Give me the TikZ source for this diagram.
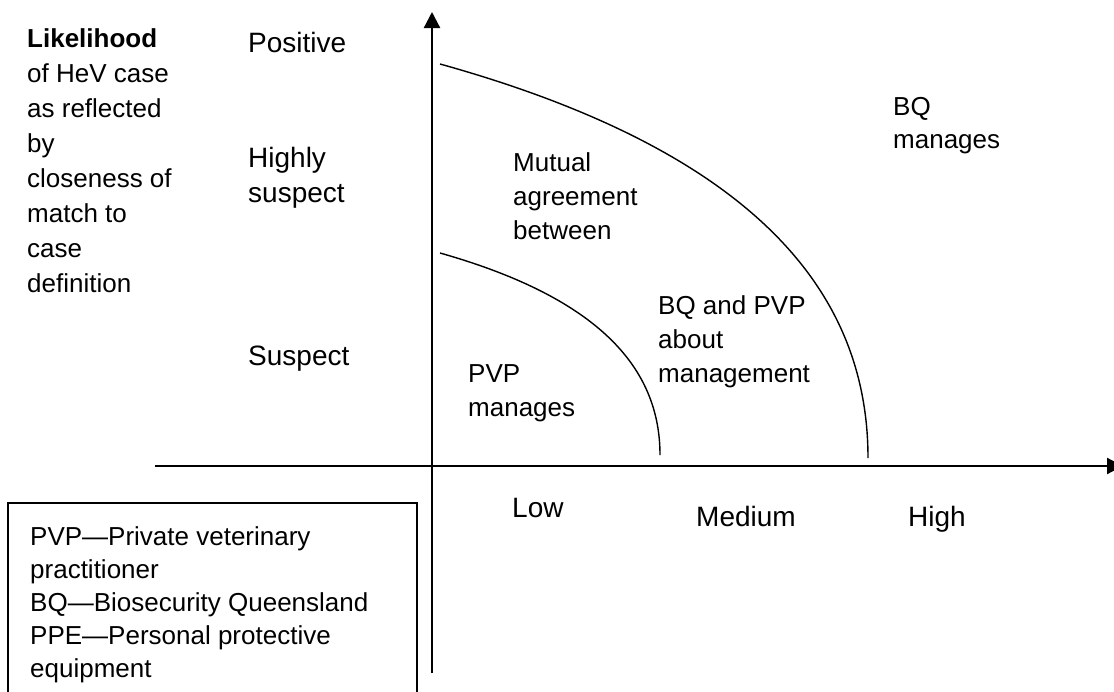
\documentclass[tikz,border=0pt]{standalone}
\usepackage{fontspec}
\setmainfont{Liberation Sans}
\usetikzlibrary{arrows.meta}

\tikzset{
  axis/.style={line width=2.2pt, -{Triangle[width=16pt,length=16pt]}},
  zone/.style={line width=1.4pt},
  keybox/.style={line width=1.2pt},
  lbl/.style={anchor=base west, align=left, inner sep=0pt, font=\fontsize{26}{34}\selectfont},
  lvl/.style={lbl, font=\fontsize{28}{35}\selectfont},
}

\begin{document}
\begin{tikzpicture}[x=1pt, y=-1pt]
      \useasboundingbox (0,0) rectangle (1114,691);
      % Define coordinates
      \coordinate (ybot) at (432,673);
      \coordinate (ytop) at (432,12);
      \coordinate (xl) at (155,466);
      \coordinate (xr) at (1123,466);
      \coordinate (in0) at (440,253);
      \coordinate (in1) at (660,455);
      \coordinate (out0) at (440,64);
      \coordinate (out1) at (868,458);
      % Define nodes (placed at the baseline of the last line)
      \node[lbl, font=\fontsize{26}{35}\selectfont] (lik) at (27,292)
        {\textbf{Likelihood}\\of HeV case\\as reflected\\by\\closeness of\\match to\\case\\definition};
      \node[lvl] (pos) at (248,52) {Positive};
      \node[lvl] (hs) at (248,202) {Highly\\suspect};
      \node[lvl] (sus) at (248,365) {Suspect};
      \node[lvl] (low) at (512,517) {Low};
      \node[lvl] (med) at (696,526) {Medium};
      \node[lvl] (high) at (908,526) {High};
      \node[lbl] (pvp) at (468,416) {PVP\\manages};
      \node[lbl] (mut) at (513,239) {Mutual\\agreement\\between};
      \node[lbl] (bqpvp) at (658,382) {BQ and PVP\\about\\management};
      \node[lbl, font=\fontsize{26}{33}\selectfont] (bq) at (893,148) {BQ\\manages};
      \node[lbl, font=\fontsize{26}{33}\selectfont] (key) at (30,677)
        {PVP---Private veterinary\\practitioner\\BQ---Biosecurity Queensland\\PPE---Personal protective\\equipment};
      \draw[keybox] (8,503) rectangle (417,700);
      % Connect nodes
      \draw[axis] (ybot) -- (ytop);
      \draw[axis] (xl) -- (xr);
      \draw[zone] (in0) .. controls (606,300) and (660,373) .. (in1);
      \draw[zone] (out0) .. controls (763,154) and (868,298) .. (out1);
    \end{tikzpicture}
\end{document}
